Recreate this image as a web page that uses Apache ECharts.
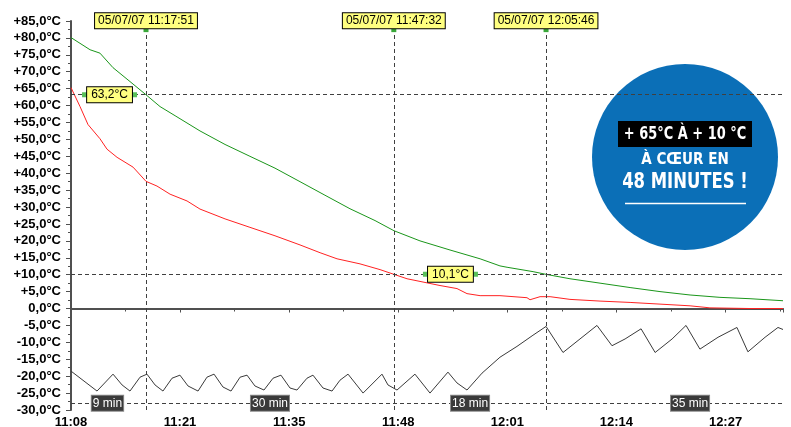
<!DOCTYPE html>
<html>
<head>
<meta charset="utf-8">
<script src="https://cdn.jsdelivr.net/npm/echarts@6/dist/echarts.min.js"></script>
<style>
html,body{margin:0;padding:0;background:#fff;}
#c{width:791px;height:427px;}
</style>
</head>
<body>
<div id="c"></div>
<script>
// time in seconds after 11:08:52, temperature in °C
var xTickLabels = ['11:08', '11:21', '11:35', '11:48', '12:01', '12:14', '12:27'];
var tickStep = 784;   // seconds between labelled ticks
var xMax = 5117;

var greenCore = [
  [0, 80.1], [137, 76.5], [208, 75.5], [302, 71.2], [424, 67.1], [539, 63.2], [640, 59.7],
  [748, 57.0], [927, 52.5], [1107, 48.5], [1286, 45.0], [1466, 41.5], [1646, 37.5],
  [1825, 33.5], [2005, 29.5], [2185, 26.0], [2321, 23.0], [2508, 20.0], [2724, 17.3],
  [2940, 14.7], [3083, 12.6], [3134, 12.2], [3321, 10.9], [3414, 10.1], [3586, 8.8],
  [3802, 7.5], [4018, 6.2], [4233, 5.0], [4449, 4.0], [4664, 3.3], [4880, 2.9], [5117, 2.3]
];
var redProbe = [
  [0, 65.3], [65, 59.7], [122, 54.4], [208, 50.2], [259, 47.1], [331, 44.7], [446, 41.8],
  [539, 37.6], [618, 36.2], [712, 33.8], [834, 31.8], [927, 29.4], [1107, 26.5], [1286, 24.0],
  [1466, 21.5], [1646, 18.8], [1790, 16.5], [1912, 14.7], [2077, 13.2], [2221, 11.5],
  [2321, 10.1], [2415, 8.8], [2652, 6.8], [2774, 5.9], [2846, 4.4], [2940, 3.8], [3083, 3.8],
  [3277, 3.2], [3299, 2.6], [3371, 3.5], [3443, 3.5], [3586, 2.7], [3802, 2.2], [4018, 1.8],
  [4233, 1.3], [4449, 0.8], [4592, 0.2], [4880, 0.0], [5117, 0.0]
];
var blackAir = [
  [0, -18.5], [187, -24.4], [302, -19.4], [367, -22.6], [424, -24.4], [496, -20.3], [546, -19.4],
  [604, -22.6], [661, -24.4], [726, -20.6], [783, -19.7], [841, -22.9], [913, -24.4], [977, -20.3],
  [1028, -19.4], [1092, -23.2], [1150, -24.4], [1215, -20.3], [1265, -19.7], [1322, -22.9],
  [1387, -24.1], [1452, -20.6], [1509, -19.7], [1574, -23.5], [1624, -24.1], [1696, -20.6],
  [1739, -19.7], [1811, -23.5], [1876, -24.4], [1933, -21.2], [1991, -19.4], [2099, -25.0],
  [2235, -19.4], [2278, -22.6], [2343, -24.1], [2472, -19.4], [2580, -25.0], [2709, -18.8],
  [2774, -22.0], [2846, -24.1], [2954, -19.1], [3083, -14.4], [3205, -11.2], [3320, -7.9],
  [3414, -5.3], [3536, -13.0], [3658, -9.0], [3780, -5.0], [3888, -11.0], [3982, -9.0],
  [4097, -6.0], [4198, -13.0], [4320, -9.0], [4420, -5.0], [4520, -12.0], [4650, -8.5],
  [4786, -5.6], [4865, -12.8], [4988, -8.5], [5081, -5.6], [5117, -6.2]
];

// cursors
var cursorTimes = [539, 2320, 3414];
var cursorTexts = ['05/07/07 11:17:51', '05/07/07 11:47:32', '05/07/07 12:05:46'];
var levelValues = [63.2, 10.1];
var levelTexts = ['63,2°C', '10,1°C'];
var levelLabelTimes = [277, 2727];
var durationLine = -28;
var durationTimes = [262, 1430, 2868, 4449];
var durationTexts = ['9 min', '30 min', '18 min', '35 min'];

var FONT = 'Liberation Sans, Arial, sans-serif';
var BADGE_FONT = '"DejaVu Sans Condensed", "Liberation Sans", sans-serif';

function yFmt(v) {
  var s = Math.abs(v).toFixed(1).replace('.', ',') + '°C';
  if (v > 0) return '+' + s;
  if (v < 0) return '-' + s;
  return s;
}

var markLineData = [];
cursorTimes.forEach(function (t) { markLineData.push({ xAxis: t }); });
levelValues.forEach(function (v) { markLineData.push({ yAxis: v }); });
markLineData.push({ yAxis: durationLine });

var markPointData = [];
cursorTimes.forEach(function (t, i) {
  markPointData.push({
    coord: [t, 82.3], symbol: 'rect', symbolSize: [5, 4],
    itemStyle: { color: '#3aa83a' },
    label: {
      show: true, position: 'top', distance: 0, formatter: cursorTexts[i],
      backgroundColor: '#ffff80', borderColor: '#000', borderWidth: 1,
      padding: [2, 3, 1, 3], color: '#000', fontSize: 12, fontFamily: FONT
    }
  });
});
levelValues.forEach(function (v, i) {
  markPointData.push({
    coord: [levelLabelTimes[i], v], symbol: 'rect', symbolSize: [55, 5],
    itemStyle: { color: '#5ac05a' },
    label: {
      show: true, position: 'inside', formatter: levelTexts[i],
      backgroundColor: '#ffff80', borderColor: '#000', borderWidth: 1,
      padding: [2, 4, 1, 4], color: '#000', fontSize: 12, fontFamily: FONT
    }
  });
});
durationTimes.forEach(function (t, i) {
  markPointData.push({
    coord: [t, durationLine], symbol: 'rect', symbolSize: 0,
    label: {
      show: true, position: 'inside', formatter: durationTexts[i],
      backgroundColor: '#3a3a3a', borderColor: '#888', borderWidth: 1,
      padding: [2, 1, 1, 1], color: '#fff', fontSize: 12, fontFamily: FONT
    }
  });
});

var chart = echarts.init(document.getElementById('c'), null, { renderer: 'canvas' });

var option = {
  animation: false,
  backgroundColor: '#ffffff',
  grid: { left: 71, top: 21, right: 8, bottom: 17, containLabel: false, outerBoundsMode: 'none' },
  xAxis: {
    type: 'value', min: 0, max: xMax, interval: tickStep,
    axisLine: { lineStyle: { color: '#505050', width: 2 } },
    axisTick: { show: true, length: 4, lineStyle: { color: '#505050' } },
    minorTick: { show: true, splitNumber: 2, length: 3, lineStyle: { color: '#505050' } },
    splitLine: { show: false },
    axisLabel: {
      fontFamily: FONT, fontWeight: 'bold', fontSize: 13, color: '#000', margin: 6,
      showMaxLabel: false,
      formatter: function (v) {
        var i = Math.round(v / tickStep);
        return Math.abs(v - i * tickStep) < 1 && xTickLabels[i] ? xTickLabels[i] : '';
      }
    }
  },
  yAxis: {
    type: 'value', min: -30, max: 85, interval: 5,
    axisLine: { show: true, lineStyle: { color: '#505050', width: 2 } },
    axisTick: { show: true, length: 5, lineStyle: { color: '#505050' } },
    minorTick: { show: true, splitNumber: 2, length: 3, lineStyle: { color: '#505050' } },
    splitLine: { show: false },
    axisLabel: {
      fontFamily: FONT, fontWeight: 'bold', fontSize: 13, color: '#000', margin: 10,
      formatter: yFmt
    }
  },
  series: [
    {
      name: 'core', type: 'line', data: greenCore, symbol: 'none',
      lineStyle: { color: '#1a961a', width: 1 }, z: 3
    },
    {
      name: 'probe', type: 'line', data: redProbe, symbol: 'none',
      lineStyle: { color: '#ff2222', width: 1 }, z: 3
    },
    {
      name: 'air', type: 'line', data: blackAir, symbol: 'none',
      lineStyle: { color: '#3a3a3a', width: 1 }, z: 3
    },
    {
      name: 'cursors', type: 'line', data: [], z: 4,
      markLine: {
        silent: true, symbol: ['none', 'none'], animation: false,
        label: { show: false },
        lineStyle: { color: '#404040', width: 1, type: [4, 3] },
        data: markLineData
      }
    },
    {
      name: 'labels', type: 'line', data: [], z: 6,
      markPoint: { silent: true, animation: false, data: markPointData }
    }
  ],
  graphic: [
    {
      type: 'group', z: 100,
      children: [
        { type: 'circle', shape: { cx: 685, cy: 157, r: 93 }, style: { fill: '#0b6fb7' } },
        { type: 'rect', shape: { x: 618, y: 121, width: 134, height: 26 }, style: { fill: '#000' } },
        { type: 'text', x: 685, y: 134.5, scaleX: 0.8, style: {
            text: '+ 65°C À + 10 °C', fill: '#fff', align: 'center', verticalAlign: 'middle',
            font: 'bold 18px ' + BADGE_FONT } },
        { type: 'text', x: 685, y: 159.5, scaleX: 0.97, style: {
            text: 'À CŒUR EN', fill: '#fff', align: 'center', verticalAlign: 'middle',
            font: 'bold 15.5px ' + BADGE_FONT } },
        { type: 'text', x: 685, y: 183, scaleX: 0.87, style: {
            text: '48 MINUTES !', fill: '#fff', align: 'center', verticalAlign: 'middle',
            font: 'bold 21px ' + BADGE_FONT } },
        { type: 'line', shape: { x1: 625, y1: 203.5, x2: 746, y2: 203.5 }, style: { stroke: '#fff', lineWidth: 1.5 } }
      ]
    }
  ]
};
chart.setOption(option);
</script>
</body>
</html>
